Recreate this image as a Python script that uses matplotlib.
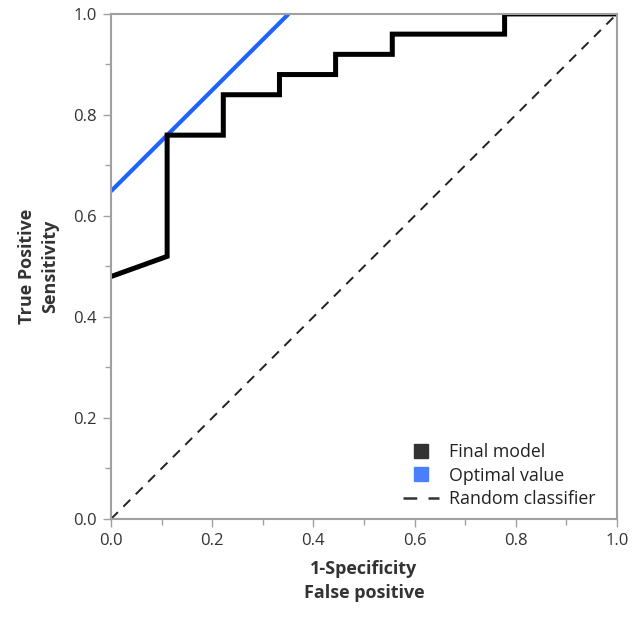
import matplotlib
matplotlib.use('Agg')
import matplotlib.pyplot as plt
from matplotlib.lines import Line2D

# ROC curve points (1-specificity, sensitivity)
fpr = [0.0, 0.111, 0.111, 0.222, 0.222, 0.333, 0.333, 0.444, 0.444,
       0.556, 0.556, 0.778, 0.778, 1.0]
tpr = [0.48, 0.52, 0.76, 0.76, 0.84, 0.84, 0.88, 0.88, 0.92,
       0.92, 0.96, 0.96, 1.0, 1.0]

# optimal value tangent line
opt_x = [0.0, 0.351]
opt_y = [0.649, 1.0]

# random classifier
rand_x = [0.0, 1.0]
rand_y = [0.0, 1.0]

plt.rcParams['font.family'] = ['Open Sans', 'DejaVu Sans']
grey = '#a0a0a0'
text_c = '#333333'

fig = plt.figure(figsize=(6.36, 6.22), dpi=100)
ax = fig.add_axes([0.1745, 0.1656, 0.7955, 0.812])

ax.plot(rand_x, rand_y, color='#222222', lw=1.4, ls=(0, (5, 4)))
ax.plot(opt_x, opt_y, color='#1f63ff', lw=3.0, solid_capstyle='butt')
ax.plot(fpr, tpr, color='black', lw=3.6, solid_joinstyle='miter')

ax.set_xlim(0, 1)
ax.set_ylim(0, 1)
ax.set_xticks([0, 0.2, 0.4, 0.6, 0.8, 1.0])
ax.set_yticks([0, 0.2, 0.4, 0.6, 0.8, 1.0])
ax.set_xticks([0.1, 0.3, 0.5, 0.7, 0.9], minor=True)
ax.set_yticks([0.1, 0.3, 0.5, 0.7, 0.9], minor=True)
ax.xaxis.set_major_formatter(matplotlib.ticker.FormatStrFormatter('%.1f'))
ax.yaxis.set_major_formatter(matplotlib.ticker.FormatStrFormatter('%.1f'))
ax.tick_params(which='major', length=6, width=1, color=grey, labelsize=12,
               labelcolor=text_c, pad=4)
ax.tick_params(which='minor', length=4, width=1, color=grey)
for s in ax.spines.values():
    s.set_color(grey)
    s.set_linewidth(1.5)

ax.set_xlabel('1-Specificity\nFalse positive', fontsize=13, fontweight='bold',
              color=text_c, linespacing=1.4, labelpad=8)
ax.set_ylabel('True Positive\nSensitivity', fontsize=13, fontweight='bold',
              color=text_c, linespacing=1.4, labelpad=10)

handles = [Line2D([], [], ls='none', marker='s', markersize=10,
                  color='#333333'),
           Line2D([], [], ls='none', marker='s', markersize=10,
                  color='#4a80ff'),
           Line2D([], [], color='#333333', lw=1.8, ls=(0, (5.5, 4.5)))]
labels = ['Final model', 'Optimal value', 'Random classifier']
ax.legend(handles, labels, loc='lower right', bbox_to_anchor=(0.99, -0.01),
          frameon=False, fontsize=12.8, handlelength=2.0,
          labelspacing=0.3, handletextpad=0.6, labelcolor='#222222')

fig.savefig('out.png', dpi=100)
